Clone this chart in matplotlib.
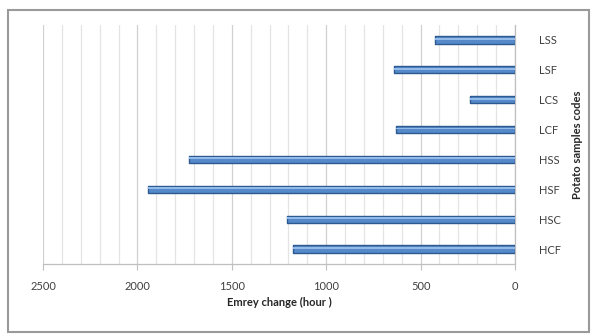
import numpy as np
import matplotlib.pyplot as plt
from matplotlib.patches import Rectangle
from matplotlib.ticker import MultipleLocator

# Emrey change per potato sample (hours)
codes = ['HCF', 'HSC', 'HSF', 'HSS', 'LCF', 'LCS', 'LSF', 'LSS']
hours = [1175, 1210, 1945, 1725, 630, 240, 640, 425]

plt.rcParams['font.family'] = ['Lato', 'DejaVu Sans']

fig = plt.figure(figsize=(5.91, 3.34), dpi=100)
ax = fig.add_axes([0.0728, 0.2096, 0.7986, 0.7156])

y = np.arange(len(codes))
# main bar plus a lighter strip on top for the glossy look
ax.barh(y, hours, height=0.24, color='#5689c9', edgecolor='#2c5a90',
        linewidth=1.0, joinstyle='round', zorder=3)
ax.barh(y + 0.035, hours, height=0.06, color='#93bbea', linewidth=0,
        zorder=4)

ax.set_xlim(2500, 0)
ax.set_ylim(-0.5, len(codes) - 0.5)
ax.xaxis.set_major_locator(MultipleLocator(500))
ax.xaxis.set_minor_locator(MultipleLocator(100))
ax.grid(axis='x', which='major', color='#d0d0d0', linewidth=0.9, zorder=0)
ax.grid(axis='x', which='minor', color='#e4e4e4', linewidth=0.9, zorder=0)

ax.set_yticks(y)
ax.set_yticklabels(codes)
ax.yaxis.tick_right()
ax.yaxis.set_label_position('right')
ax.tick_params(axis='y', length=0, pad=17, labelsize=8, labelcolor='#404040')
ax.tick_params(axis='x', which='major', length=4, color='#bfbfbf',
               pad=8, labelsize=8, labelcolor='#404040')
ax.tick_params(axis='x', which='minor', length=0)

for side in ['top', 'left']:
    ax.spines[side].set_visible(False)
for side in ['bottom', 'right']:
    ax.spines[side].set_color('#bfbfbf')
    ax.spines[side].set_linewidth(0.9)

ax.set_xlabel('Emrey change (hour )', fontsize=8, fontweight='bold',
              color='#262626', labelpad=4)
ax.set_ylabel('Potato samples codes', fontsize=8, fontweight='bold',
              color='#262626', labelpad=8)

# outer chart frame
fig.patches.append(Rectangle((8 / 591, 2 / 334), 581 / 591, 322 / 334,
                             transform=fig.transFigure, fill=False,
                             edgecolor='#9a9a9a', linewidth=1.5))

fig.savefig('out.png', dpi=100)
